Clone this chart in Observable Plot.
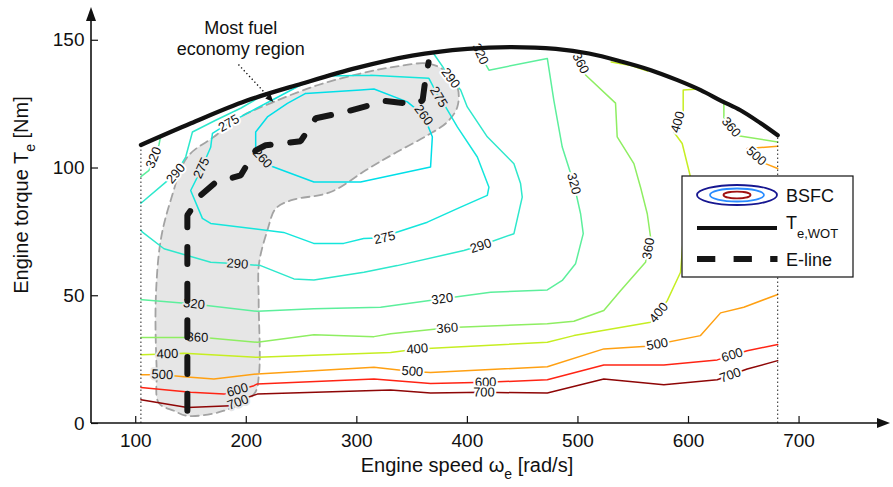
<!DOCTYPE html>
<html>
<head>
<meta charset="utf-8">
<script src="https://cdn.jsdelivr.net/npm/d3@7"></script>
<script src="https://cdn.jsdelivr.net/npm/@observablehq/plot@0.6"></script>
<style>
  html, body { margin: 0; padding: 0; background: #fff; }
  #chart svg { display: block; }
</style>
</head>
<body>
<div id="chart"></div>
<script>
// ---------- data ----------
const xTicks = [100, 200, 300, 400, 500, 600, 700];
const yTicks = [0, 50, 100, 150];

// Wide-open-throttle torque curve [rad/s, Nm]
const wotCurve = [
  [104.7, 109.0], [150, 117.5], [200, 126.3], [250, 133.0], [300, 139.2],
  [350, 144.0], [400, 146.6], [440, 147.3], [480, 146.6], [510, 144.8],
  [540, 141.6], [566, 138.3], [590, 134.4], [611, 130.5], [630, 126.2],
  [647, 122.6], [665, 117.6], [680.7, 112.8]
];

// Efficient operating line (E-line) [rad/s, Nm]
const eLine = [
  [146.7, 5.0], [146.7, 81.5], [158.8, 89.3], [172.3, 94.4], [194.9, 97.1],
  [208.5, 106.9], [217.5, 108.9], [249.2, 110.5], [262.8, 119.5], [285.4, 121.5],
  [326, 126.2], [353.2, 124.9], [359.5, 126.5], [362.2, 135.2], [364.9, 141.4]
];

// Outline of the most fuel-economic region [rad/s, Nm]
const regionOutline = [
  [146.7, 3.0], [134.6, 5.0], [120.8, 8.1], [119, 20.7], [118.1, 48.1],
  [122.6, 71.7], [131.6, 87.3], [146.7, 104.3], [170.8, 112.2], [194.9, 120],
  [225, 125.9], [264.3, 132.4], [303.4, 137], [333.6, 139.6], [363.8, 140.9],
  [378.8, 138.3], [390.9, 131.8], [390.9, 123.9], [381.8, 118], [363.8, 112.8],
  [333.6, 105.6], [308, 99.1], [276.3, 90.6], [240.1, 87.3], [226.6, 84.1],
  [219.1, 75.6], [211.5, 62.5], [211.2, 48.1], [211.5, 19.4], [207, 11.5],
  [179.8, 5.0]
];

// BSFC contour levels [g/kWh]
const bsfcLevels = [260, 275, 290, 320, 360, 400, 500, 600, 700];
const bsfcColors = ["#00dfe8", "#14e6dc", "#2ee8cc", "#5cef9c", "#8eee62", "#c6ee22", "#ffa012", "#ff2414", "#8e0606"];

// BSFC iso-lines, each a list of polylines [rad/s, Nm]
const contour260 = [[
  [253.7, 129.2], [237.2, 125.3], [219.1, 120.0], [208.5, 114.1], [208.5, 108.2],
  [210, 104.3], [220.5, 101.1], [261.2, 94.5], [303.4, 94.5], [366.7, 100.4],
  [368.3, 112.2], [360.4, 120.7], [345.7, 125.9], [315.5, 130.9], [303.4, 130.5],
  [253.7, 129.2]
]];
const contour275 = [[
  [312.5, 136.3], [273.3, 136.0], [249.2, 132.5], [226.6, 127.3], [197.7, 120.7],
  [176.9, 115.6], [169.4, 113.6], [167.8, 108.1], [158.8, 99.1], [149.7, 91.2],
  [160.3, 80.3], [167.8, 78.3], [233.8, 74.8], [261, 70.5], [288.1, 70.5],
  [306.2, 72.4], [325.1, 72.7], [333.3, 74.5], [363.8, 78.8], [393.9, 84.7],
  [418, 89.3], [419.5, 92.5], [409, 104.3], [390.9, 116.1], [380.3, 123.9],
  [374, 127.8], [365.2, 135.1], [312.5, 136.3]
]];
const contour290 = [
  [[104.7, 86.2], [125.6, 93.9], [136.2, 97.8], [145.2, 104.3], [151.3, 114.1],
   [172.3, 118.7], [194.9, 123.4], [217.5, 129.1]],
  [[368.3, 145.5], [384.8, 135.2], [393.9, 130.5], [399.9, 123.9], [418, 112.2],
   [442.1, 101.7], [448.1, 93.9], [449.6, 88.6], [442.1, 74.3], [411.9, 69.7],
   [396.8, 67.7], [336.6, 61.8], [306.4, 59.2], [261.2, 56.2], [243.1, 56.6],
   [213, 61.8], [192, 62.5], [167.8, 63.1], [125.6, 68.4], [106.1, 74.9], [104.7, 75.6]]
];
const contour320 = [
  [[104.7, 96.6], [112, 99.1], [116.3, 104.1], [121, 109], [122.5, 112.3]],
  [[410, 146.8], [413.5, 142.9], [419.5, 138.3], [472.3, 142.9], [478.2, 126.5],
   [485.8, 108.2], [496.3, 93.9], [502.4, 82.1], [504.8, 74.3], [497.8, 62.5],
   [485.8, 56], [472.3, 52.3], [421, 51.4], [377.3, 48.8], [321.5, 45.5],
   [261.2, 44.9], [210, 43.9], [152.7, 46.8], [106.1, 48.4], [104.7, 48.4]]
];
const contour360 = [
  [[104.7, 33.7], [155.8, 33.7], [161.5, 33.7], [210, 31.8], [261.2, 34.7],
   [315.5, 34], [330.6, 35.1], [385, 37.6], [472.3, 39], [496.3, 40],
   [523.4, 44.2], [538.5, 52], [561.1, 63.1], [565.7, 72.9], [562.7, 82.1],
   [556.6, 92.5], [550.6, 101.7], [535.5, 112.2], [534, 125.4], [506.9, 136.4],
   [502.4, 141], [496.3, 145.9]],
  [[632, 126.1], [632, 119.5], [645, 112.6], [680.7, 110.2]]
];
const contour400 = [
  [[104.7, 26.9], [128.7, 27.2], [143.7, 27.5], [210, 25.9], [330.6, 27.8],
   [354.7, 29.2], [472.3, 31.8], [496.3, 34.4], [565.7, 39.6], [573, 43.4],
   [580.8, 48.1], [592.8, 59.2], [596.6, 79.4], [601.8, 96.5], [594.3, 109.6],
   [586.7, 114.1], [590.3, 118], [595.2, 122], [595.2, 130.5], [609.3, 130.9]],
  [[530, 141.5], [548, 140.1], [563, 138.0]]
];
const contour500 = [
  [[104.7, 19.1], [124.1, 19.1], [143.7, 18.3], [170.7, 17.4], [210, 19.4],
   [315.5, 22], [350.2, 20.4], [366.7, 20], [472.3, 22.2], [523.4, 29.2],
   [562.6, 30.2], [610.9, 34.4], [629, 43.3], [650, 45.5], [680.7, 50.5]],
  [[680.7, 108.5], [653.1, 107.6], [669.6, 101.7], [680.7, 99.8]]
];
const contour600 = [[
  [104.7, 14.1], [149.7, 12.2], [179.8, 11.5], [206.9, 14.8], [210, 15.5],
  [315.5, 17.4], [366.7, 15.7], [416.5, 16.1], [472.3, 17.1], [523.4, 22.9],
  [577.7, 22.9], [626, 24.9], [653.1, 28.5], [680.7, 30.9]
]];
const contour700 = [[
  [104.7, 9.3], [146.7, 6.3], [185.9, 6.9], [201, 10.2], [210, 11.5],
  [330.6, 13.1], [366.7, 11.9], [415, 12.2], [472.3, 11.9], [523.4, 17.4],
  [577.7, 15.2], [626, 17.1], [653.1, 21.3], [680.7, 24.6]
]];

// Inline contour labels: [level, speed, torque]
const contourLabels = [
  [260, 360.4, 120.7], [260, 214.6, 103.8],
  [275, 374, 127.8], [275, 184.1, 117.5], [275, 159.5, 100], [275, 325.1, 72.7],
  [290, 384.8, 135.2], [290, 136.2, 97.8], [290, 412, 69.5], [290, 192, 62.5],
  [320, 116.3, 104.1], [320, 411.6, 144.6], [320, 496.3, 93.9], [320, 377.3, 48.8], [320, 152.7, 46.8],
  [360, 502.4, 141], [360, 563.9, 68.5], [360, 381.8, 37.3], [360, 155.8, 33.7], [360, 638.5, 116],
  [400, 590.3, 118], [400, 573, 43.4], [400, 354.7, 29.2], [400, 128.7, 27.2],
  [500, 661.3, 104.7], [500, 571.7, 31], [500, 350.2, 20.4], [500, 124.1, 19.1],
  [600, 639.5, 26.8], [600, 416.5, 16.1], [600, 192, 13.1],
  [700, 637.8, 18.9], [700, 415, 12.2], [700, 192.5, 8.3]
];

const contours = new Map([
  [260, contour260], [275, contour275], [290, contour290], [320, contour320],
  [360, contour360], [400, contour400], [500, contour500], [600, contour600],
  [700, contour700]
]);

// ---------- layout ----------
const W = 893, H = 487;
const margin = {top: 4, right: 6, bottom: 64, left: 91};
const xDomain = [60, 780], yDomain = [0, 164];
const frameW = W - margin.left - margin.right;
const frameH = H - margin.top - margin.bottom;
const kx = frameW / (xDomain[1] - xDomain[0]);
const ky = frameH / (yDomain[1] - yDomain[0]);
const FONT = "'Liberation Sans', Arial, Helvetica, sans-serif";

// Orientation of a label: direction of its iso-line around the label, in screen space
function labelAngle(level, x, y) {
  const half = 14;
  let best = {d: Infinity};
  for (const seg of contours.get(level)) {
    const pts = seg.map(([a, b]) => [a * kx, -b * ky]);
    const cum = [0];
    for (let i = 1; i < pts.length; i++) cum.push(cum[i - 1] + Math.hypot(pts[i][0] - pts[i - 1][0], pts[i][1] - pts[i - 1][1]));
    const px = x * kx, py = -y * ky;
    for (let i = 1; i < pts.length; i++) {
      const [ax, ay] = pts[i - 1], [bx, by] = pts[i];
      const dx = bx - ax, dy = by - ay, L2 = dx * dx + dy * dy;
      let t = L2 ? ((px - ax) * dx + (py - ay) * dy) / L2 : 0;
      t = Math.max(0, Math.min(1, t));
      const d = (ax + t * dx - px) ** 2 + (ay + t * dy - py) ** 2;
      if (d < best.d) best = {d, pts, cum, pos: cum[i - 1] + t * Math.sqrt(L2)};
    }
  }
  const {pts, cum, pos} = best;
  const at = (s) => {
    s = Math.max(0, Math.min(cum[cum.length - 1], s));
    let i = 1;
    while (i < cum.length - 1 && cum[i] < s) i++;
    const seg = cum[i] - cum[i - 1] || 1, t = (s - cum[i - 1]) / seg;
    return [pts[i - 1][0] + t * (pts[i][0] - pts[i - 1][0]), pts[i - 1][1] + t * (pts[i][1] - pts[i - 1][1])];
  };
  const p0 = at(pos - half), p1 = at(pos + half);
  let a = Math.atan2(p1[1] - p0[1], p1[0] - p0[0]) * 180 / Math.PI;
  if (a > 90) a -= 180;
  if (a < -90) a += 180;
  return a;
}

const labelRows = contourLabels.map(([level, x, y]) => ({
  level, x, y,
  angle: labelAngle(level, x, y),
  inRegion: d3.polygonContains(regionOutline, [x, y])
}));

const contourMarks = bsfcLevels.map((level, k) => {
  const rows = contours.get(level).flatMap((seg, i) => seg.map(([x, y]) => ({x, y, seg: i})));
  return Plot.line(rows, {x: "x", y: "y", z: "seg", stroke: bsfcColors[k], strokeWidth: 1.5, strokeLinejoin: "round"});
});

const labelMark = (rows, halo) => Plot.text(rows, {
  x: "x", y: "y", text: d => String(d.level), rotate: "angle",
  fontSize: 13, fill: "#111", stroke: halo, strokeWidth: 4, paintOrder: "stroke",
  textAnchor: "middle", lineAnchor: "middle"
});

const wotEnds = [wotCurve[0], wotCurve[wotCurve.length - 1]];

const svg = Plot.plot({
  width: W,
  height: H,
  marginTop: margin.top,
  marginRight: margin.right,
  marginBottom: margin.bottom,
  marginLeft: margin.left,
  style: {fontFamily: FONT, fontSize: "19px", color: "#111", background: "#fff"},
  x: {domain: xDomain, ticks: xTicks, tickSize: 0, tickPadding: 10, label: null},
  y: {domain: yDomain, ticks: yTicks, tickSize: 0, tickPadding: 7, label: null},
  marks: [
    // shaded most-economic region
    Plot.line(regionOutline, {
      x: d => d[0], y: d => d[1], curve: "catmull-rom-closed",
      fill: "#e6e6e6", stroke: "#a3a3a3", strokeWidth: 1.8, strokeDasharray: "8,5"
    }),
    // BSFC iso-lines and their labels
    ...contourMarks,
    labelMark(labelRows.filter(d => !d.inRegion), "#ffffff"),
    labelMark(labelRows.filter(d => d.inRegion), "#e6e6e6"),
    // speed limits of the map
    Plot.ruleX(wotEnds, {x: d => d[0], y1: 0, y2: d => d[1], stroke: "#222", strokeWidth: 1, strokeDasharray: "1.5,2.5"}),
    // full-load torque
    Plot.line(wotCurve, {x: d => d[0], y: d => d[1], curve: "catmull-rom", stroke: "#111", strokeWidth: 4.2}),
    // E-line
    Plot.line(eLine, {x: d => d[0], y: d => d[1], stroke: "#161616", strokeWidth: 6, strokeDasharray: "17,19.7", strokeLinejoin: "miter"}),
    // annotation
    Plot.text(["Most fuel\neconomy region"], {x: 195, y: 151, text: d => d, fontSize: 18, lineHeight: 1.2, fill: "#111", textAnchor: "middle", lineAnchor: "middle"}),
    // inward ticks
    Plot.tickX(xTicks, {x: d => d, insetTop: frameH - 7, stroke: "#111", strokeWidth: 1.2}),
    Plot.tickY(yTicks, {y: d => d, insetRight: frameW - 7, stroke: "#111", strokeWidth: 1.2})
  ]
});

document.getElementById("chart").append(svg);

// ---------- axes, titles, pointer and legend ----------
const sx = svg.scale("x"), sy = svg.scale("y");
const g = d3.select(svg).append("g").attr("font-family", FONT).attr("fill", "#111");
const x0 = sx.apply(xDomain[0]), y0 = sy.apply(0);

// axis lines with arrowheads
g.append("line").attr("x1", x0).attr("x2", 880).attr("y1", y0).attr("y2", y0).attr("stroke", "#111").attr("stroke-width", 1.6);
g.append("path").attr("d", `M890,${y0} L877,${y0 - 5} L877,${y0 + 5} Z`).attr("fill", "#111");
g.append("line").attr("x1", x0).attr("x2", x0).attr("y1", y0).attr("y2", 16).attr("stroke", "#111").attr("stroke-width", 1.6);
g.append("path").attr("d", `M${x0},7 L${x0 - 5},21 L${x0 + 5},21 Z`).attr("fill", "#111");

// axis titles
const xt = g.append("text").attr("x", 467).attr("y", 472).attr("text-anchor", "middle").attr("font-size", 20);
xt.append("tspan").text("Engine speed ω");
xt.append("tspan").attr("font-size", 14).attr("dy", 7).text("e");
xt.append("tspan").attr("dy", -7).text(" [rad/s]");

const yt = g.append("text").attr("transform", "translate(28,195) rotate(-90)").attr("text-anchor", "middle").attr("font-size", 20);
yt.append("tspan").text("Engine torque T");
yt.append("tspan").attr("font-size", 14).attr("dy", 7).text("e");
yt.append("tspan").attr("dy", -7).text(" [Nm]");

// dotted pointer from the annotation to the region
const a0 = [sx.apply(193.4), sy.apply(140.3)];
const a1 = [sx.apply(221.8), sy.apply(127.1)];
g.append("line").attr("x1", a0[0]).attr("y1", a0[1]).attr("x2", a1[0]).attr("y2", a1[1])
  .attr("stroke", "#111").attr("stroke-width", 1.4).attr("stroke-dasharray", "1.3,2.6");
const ang = Math.atan2(a1[1] - a0[1], a1[0] - a0[0]) * 180 / Math.PI;
g.append("path").attr("d", "M5,0 L-3,-3.5 L-3,3.5 Z").attr("fill", "#111")
  .attr("transform", `translate(${a1[0]},${a1[1]}) rotate(${ang})`);

// legend
const lg = g.append("g").attr("text-anchor", "start");
lg.append("rect").attr("x", 682).attr("y", 176).attr("width", 171).attr("height", 101)
  .attr("fill", "#fff").attr("stroke", "#111").attr("stroke-width", 1.2);
lg.append("ellipse").attr("cx", 737).attr("cy", 195).attr("rx", 40).attr("ry", 10).attr("fill", "none").attr("stroke", "#161690").attr("stroke-width", 1.8);
lg.append("ellipse").attr("cx", 737).attr("cy", 195).attr("rx", 27).attr("ry", 6.5).attr("fill", "none").attr("stroke", "#2a8cff").attr("stroke-width", 1.8);
lg.append("ellipse").attr("cx", 737).attr("cy", 195).attr("rx", 13.5).attr("ry", 3.3).attr("fill", "none").attr("stroke", "#a01010").attr("stroke-width", 1.8);
lg.append("text").attr("x", 786).attr("y", 201.5).attr("font-size", 18).text("BSFC");
lg.append("line").attr("x1", 697).attr("x2", 777).attr("y1", 228).attr("y2", 228).attr("stroke", "#111").attr("stroke-width", 4);
const tl = lg.append("text").attr("x", 786).attr("y", 228.5).attr("font-size", 18);
tl.append("tspan").text("T");
tl.append("tspan").attr("font-size", 13).attr("dy", 9).text("e,WOT");
lg.append("line").attr("x1", 697).attr("x2", 777.5).attr("y1", 259).attr("y2", 259).attr("stroke", "#161616").attr("stroke-width", 6).attr("stroke-dasharray", "18.3,18.3");
lg.append("text").attr("x", 786).attr("y", 265.5).attr("font-size", 18).text("E-line");
</script>
</body>
</html>
